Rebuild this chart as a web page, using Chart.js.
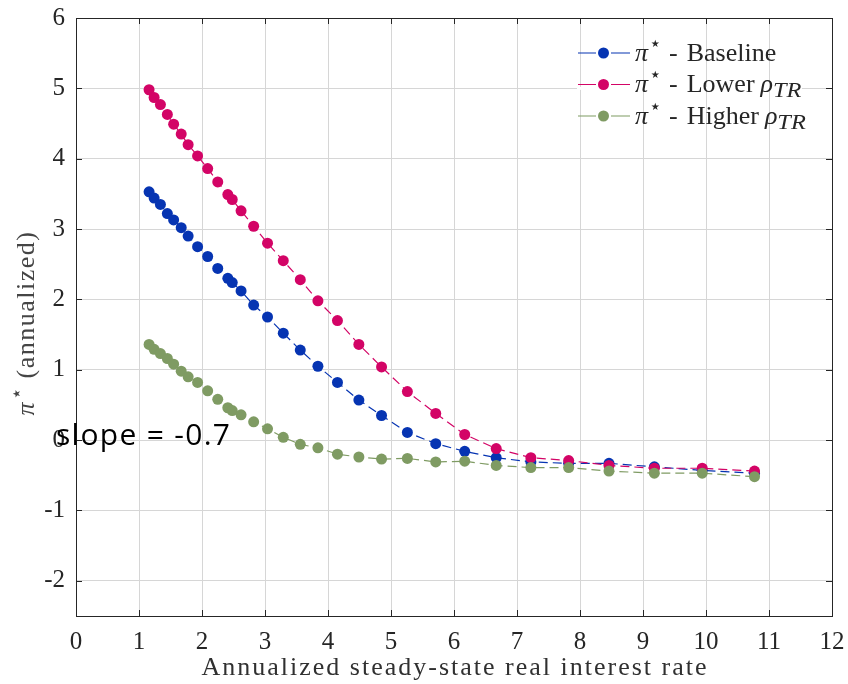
<!DOCTYPE html>
<html>
<head>
<meta charset="utf-8">
<script src="https://cdn.jsdelivr.net/npm/chart.js@4.4.1/dist/chart.umd.min.js"></script>
<style>
  html, body { margin: 0; padding: 0; background: #ffffff; }
  canvas { display: block; }
</style>
</head>
<body>
<canvas id="chart" width="848" height="684"></canvas>
<script>
// Annualized steady-state real interest rate (shared grid for all series)
const rates = [1.16, 1.24, 1.34, 1.45, 1.55, 1.67, 1.78, 1.93, 2.09, 2.25, 2.41, 2.48, 2.62, 2.82, 3.04,
               3.29, 3.56, 3.84, 4.15, 4.49, 4.85, 5.26, 5.71, 6.17, 6.67, 7.22, 7.82, 8.46, 9.18, 9.94, 10.77];

// pi* (annualized) for each specification
const baseline  = [3.53, 3.44, 3.35, 3.22, 3.13, 3.02, 2.90, 2.75, 2.61, 2.44, 2.30, 2.24, 2.12, 1.92, 1.75,
                   1.52, 1.28, 1.05, 0.82, 0.57, 0.35, 0.11, -0.05, -0.16, -0.25, -0.31, -0.33, -0.33, -0.38, -0.43, -0.47];
const lowerRho  = [4.98, 4.87, 4.77, 4.63, 4.49, 4.35, 4.20, 4.04, 3.86, 3.67, 3.49, 3.42, 3.26, 3.04, 2.80,
                   2.55, 2.28, 1.98, 1.70, 1.36, 1.04, 0.69, 0.38, 0.08, -0.12, -0.25, -0.29, -0.36, -0.40, -0.40, -0.44];
const higherRho = [1.36, 1.29, 1.23, 1.16, 1.08, 0.98, 0.90, 0.82, 0.70, 0.58, 0.46, 0.42, 0.36, 0.26, 0.16,
                   0.04, -0.06, -0.11, -0.20, -0.24, -0.27, -0.26, -0.31, -0.30, -0.36, -0.39, -0.39, -0.44, -0.47, -0.47, -0.52];

const xTickValues = [0, 1, 2, 3, 4, 5, 6, 7, 8, 9, 10, 11, 12];
const yTickValues = [-2, -1, 0, 1, 2, 3, 4, 5, 6];

const xTitle = 'Annualized steady-state real interest rate';
const yTitleRest = '(annualized)';
const noteText = 'slope = -0.7';

const BLUE = '#0634b2';
const PINK = '#d30466';
const GREEN = '#7f9b63';
const TEXT = '#262626';
const SERIF = '"Liberation Serif", "DejaVu Serif", serif';

// legend entries: rich-text pieces after the "pi*" symbol (pre = extra gap in px)
const legendEntries = [
  { color: BLUE,  pieces: [{ t: '-', pre: 7 }, { t: 'Baseline', pre: 9 }] },
  { color: PINK,  pieces: [{ t: '-', pre: 7 }, { t: 'Lower', pre: 9 }, { t: 'ρ', it: true, pre: 6 },
                           { t: 'TR', it: true, sub: true, sx: 1.2 }] },
  { color: GREEN, pieces: [{ t: '-', pre: 7 }, { t: 'Higher', pre: 9 }, { t: 'ρ', it: true, pre: 6 },
                           { t: 'TR', it: true, sub: true, sx: 1.2 }] }
];

function toPoints(ys) {
  return rates.map((x, i) => ({ x: x, y: ys[i] }));
}

function series(label, ys, color, order) {
  return {
    label: label,
    data: toPoints(ys),
    borderColor: color,
    backgroundColor: color,
    borderWidth: 1.2,
    borderDash: [9, 5],
    pointRadius: 5.5,
    pointHoverRadius: 5.5,
    pointBorderWidth: 0,
    pointBackgroundColor: color,
    tension: 0,
    order: order
  };
}

// draws a sequence of text pieces (italic / sub / superscript) and returns the end x
function drawRich(ctx, pieces, x, y, size, measureOnly) {
  let cx = x;
  for (const p of pieces) {
    const s = (p.sub || p.sup) ? size * 0.78 : size;
    const sx = p.sx || 1;
    cx += p.pre || 0;
    ctx.font = (p.it ? 'italic ' : '') + s + 'px ' + SERIF;
    const dy = p.sup ? -size * 0.36 : (p.sub ? size * 0.24 : 0);
    if (!measureOnly) {
      ctx.save();
      ctx.translate(cx, y + dy);
      ctx.scale(sx, 1);
      ctx.fillText(p.t, 0, 0);
      ctx.restore();
    }
    cx += ctx.measureText(p.t).width * sx;
  }
  return cx;
}

const piStar = [{ t: 'π', it: true }, { t: '⋆', sup: true, pre: 1 }];

const decorations = {
  id: 'decorations',
  beforeDatasetsDraw(chart) {
    // legend area masks the horizontal grid line behind it
    const ctx = chart.ctx;
    const yPix = chart.scales.y.getPixelForValue(5);
    ctx.save();
    ctx.fillStyle = '#ffffff';
    ctx.fillRect(577, yPix - 1.5, 225, 3);
    ctx.restore();
  },
  afterDraw(chart) {
    const ctx = chart.ctx;
    const area = chart.chartArea;
    const xs = chart.scales.x;
    const ys = chart.scales.y;
    ctx.save();

    // axes box
    ctx.strokeStyle = TEXT;
    ctx.lineWidth = 1;
    ctx.setLineDash([]);
    ctx.strokeRect(Math.round(area.left) + 0.5, Math.round(area.top) + 0.5,
                   Math.round(area.right - area.left), Math.round(area.bottom - area.top));

    // inward tick marks on all four sides
    const tl = 6;
    ctx.beginPath();
    xTickValues.forEach(v => {
      const px = Math.round(xs.getPixelForValue(v)) + 0.5;
      ctx.moveTo(px, area.bottom); ctx.lineTo(px, area.bottom - tl);
      ctx.moveTo(px, area.top); ctx.lineTo(px, area.top + tl);
    });
    yTickValues.forEach(v => {
      const py = Math.round(ys.getPixelForValue(v)) + 0.5;
      ctx.moveTo(area.left, py); ctx.lineTo(area.left + tl, py);
      ctx.moveTo(area.right, py); ctx.lineTo(area.right - tl, py);
    });
    ctx.stroke();

    // x axis title
    ctx.fillStyle = '#303030';
    ctx.font = '26px ' + SERIF;
    ctx.textAlign = 'center';
    ctx.textBaseline = 'middle';
    ctx.letterSpacing = '2px';
    ctx.fillText(xTitle, (area.left + area.right) / 2 + 1, 668);
    ctx.letterSpacing = '0px';

    // y axis title (rotated)
    ctx.textAlign = 'left';
    ctx.textBaseline = 'middle';
    const yPieces = piStar.concat([{ t: yTitleRest, pre: 7 }]);
    ctx.letterSpacing = '1.5px';
    const w = drawRich(ctx, yPieces, 0, 0, 26, true);
    ctx.save();
    ctx.translate(27, 323);
    ctx.rotate(-Math.PI / 2);
    ctx.fillStyle = '#454545';
    drawRich(ctx, yPieces, -w / 2, 0, 26, false);
    ctx.restore();
    ctx.letterSpacing = '0px';

    // legend
    const rowY = [53, 84.5, 116];
    legendEntries.forEach((e, i) => {
      const y = rowY[i];
      ctx.strokeStyle = e.color;
      ctx.lineWidth = 1.2;
      ctx.setLineDash([]);
      ctx.beginPath();
      ctx.moveTo(578, y); ctx.lineTo(596, y);
      ctx.moveTo(611, y); ctx.lineTo(630, y);
      ctx.stroke();
      ctx.fillStyle = e.color;
      ctx.beginPath();
      ctx.arc(603.5, y, 5.5, 0, Math.PI * 2);
      ctx.fill();
      ctx.fillStyle = TEXT;
      ctx.textBaseline = 'middle';
      drawRich(ctx, piStar.concat(e.pieces), 635, y + 1, 26, false);
    });

    // annotation
    ctx.fillStyle = '#000000';
    ctx.font = '30px "Open Sans", "Liberation Sans", sans-serif';
    ctx.textAlign = 'left';
    ctx.textBaseline = 'alphabetic';
    ctx.letterSpacing = '1.3px';
    ctx.fillText(noteText, 56, 445);
    ctx.letterSpacing = '0px';

    ctx.restore();
  }
};

new Chart(document.getElementById('chart'), {
  type: 'line',
  data: {
    datasets: [
      series('π⋆ - Baseline', baseline, BLUE, 2),
      series('π⋆ - Lower ρTR', lowerRho, PINK, 1),
      series('π⋆ - Higher ρTR', higherRho, GREEN, 0)
    ]
  },
  options: {
    responsive: false,
    animation: false,
    devicePixelRatio: 1,
    layout: { padding: { top: 18, right: 16, left: 0, bottom: 0 } },
    plugins: {
      legend: { display: false },
      tooltip: { enabled: false }
    },
    scales: {
      x: {
        type: 'linear',
        min: 0,
        max: 12,
        afterBuildTicks: s => { s.ticks = xTickValues.map(v => ({ value: v })); },
        afterFit: s => { s.height = 68; s.paddingLeft = 0; s.paddingRight = 0; },
        grid: { color: '#d6d6d6', lineWidth: 1, drawTicks: false },
        border: { display: false },
        ticks: {
          padding: 11,
          autoSkip: false,
          maxRotation: 0,
          color: TEXT,
          font: { family: SERIF, size: 25 }
        }
      },
      y: {
        type: 'linear',
        min: -2.5,
        max: 6,
        afterBuildTicks: s => { s.ticks = yTickValues.map(v => ({ value: v })); },
        afterFit: s => { s.width = 76; s.paddingTop = 0; s.paddingBottom = 0; },
        grid: { color: '#d6d6d6', lineWidth: 1, drawTicks: false },
        border: { display: false },
        ticks: {
          padding: 11,
          color: TEXT,
          font: { family: SERIF, size: 25 }
        }
      }
    }
  },
  plugins: [decorations]
});
</script>
</body>
</html>
